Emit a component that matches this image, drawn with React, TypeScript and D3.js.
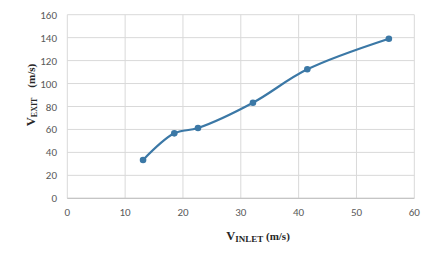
import React from "react";
import * as d3 from "d3";

const inletVelocity = [13.1, 18.5, 22.6, 32.1, 41.5, 55.6];
const exitVelocity = [33.4, 56.6, 61.3, 83.3, 112.4, 139.1];
const xTicks = [0, 10, 20, 30, 40, 50, 60];
const yTicks = [0, 20, 40, 60, 80, 100, 120, 140, 160];

export default function App() {
  const W = 448, H = 257;
  const x = d3.scaleLinear().domain([0, 60]).range([67.3, 414.3]);
  const y = d3.scaleLinear().domain([0, 160]).range([198.3, 14.7]);
  const pts: [number, number][] = inletVelocity.map((v, i) => [x(v), y(exitVelocity[i])]);
  const line = d3.line().curve(d3.curveCatmullRom.alpha(0.5))(pts) || "";
  const tickFont = "Calibri, Carlito, 'Open Sans', 'Liberation Sans', sans-serif";
  return (
    <svg width={W} height={H} style={{ position: "absolute", left: 0, top: 0, background: "#fff" }}>
      {yTicks.map((t) => (
        <line key={"gy" + t} x1={x(0)} x2={x(60)} y1={y(t)} y2={y(t)} stroke="#d9d9d9" strokeWidth={1} />
      ))}
      {xTicks.map((t) => (
        <line key={"gx" + t} x1={x(t)} x2={x(t)} y1={y(0)} y2={y(160)} stroke="#d9d9d9" strokeWidth={1} />
      ))}
      <line x1={x(0)} x2={x(60)} y1={y(0)} y2={y(0)} stroke="#bfbfbf" strokeWidth={1} />
      {yTicks.map((t) => (
        <text key={"ty" + t} x={57} y={y(t) + 4} textAnchor="end" fontSize={11} fill="#595959" fontFamily={tickFont}>{t}</text>
      ))}
      {xTicks.map((t) => (
        <text key={"tx" + t} x={x(t)} y={216} textAnchor="middle" fontSize={11} fill="#595959" fontFamily={tickFont}>{t}</text>
      ))}
      <path d={line} fill="none" stroke="#3b78a6" strokeWidth={2.2} strokeLinejoin="round" />
      {pts.map((p, i) => (
        <circle key={"m" + i} cx={p[0]} cy={p[1]} r={3.3} fill="#3b78a6" />
      ))}
      <text x={258} y={240} textAnchor="middle" fontFamily="'Liberation Serif', 'Times New Roman', serif" fontWeight="bold" fill="#262626">
        <tspan fontSize={12.5}>V</tspan>
        <tspan fontSize={9} dy={1.5}>INLET</tspan>
        <tspan fontSize={11} dy={-1.5}> (m/s)</tspan>
      </text>
      <text transform="translate(35,95) rotate(-90)" textAnchor="middle" fontFamily="'Liberation Serif', 'Times New Roman', serif" fontWeight="bold" fill="#262626">
        <tspan fontSize={12.5}>V</tspan>
        <tspan fontSize={8} dy={1.5}>EXIT</tspan>
        <tspan fontSize={11} dy={-1.5} dx={10}>(m/s)</tspan>
      </text>
    </svg>
  );
}
